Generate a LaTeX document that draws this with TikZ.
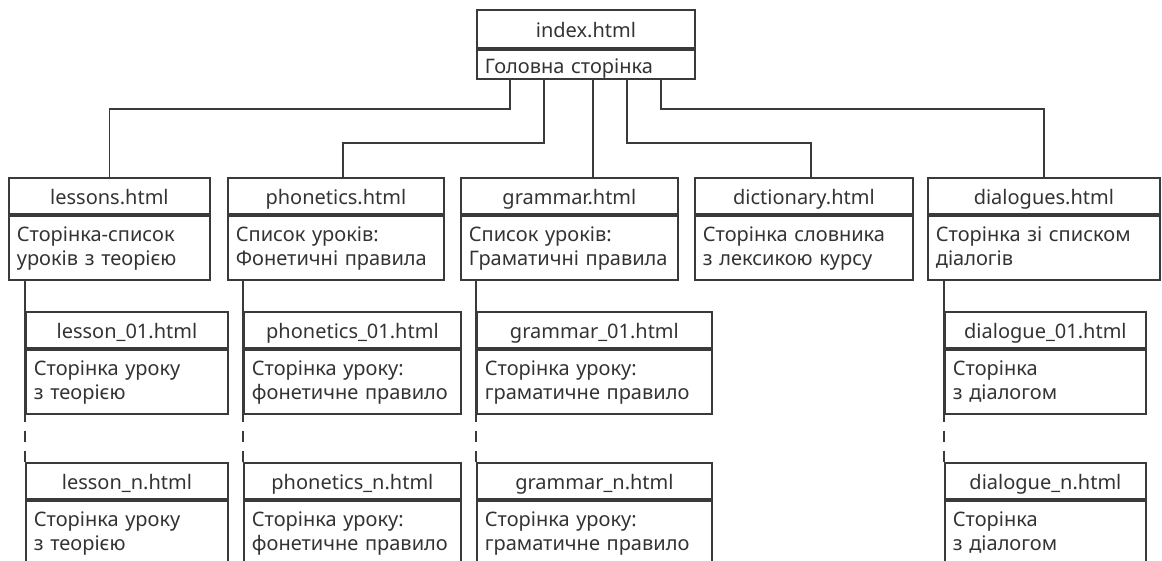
\documentclass[tikz,border=0pt]{standalone}
\usepackage{fontspec}
\setmainfont{Noto Sans}
\definecolor{linegray}{HTML}{3A3A3A}
\definecolor{textgray}{HTML}{333333}
\tikzset{
  pagetitle/.style={draw=linegray, line width=1.8pt, anchor=north west, inner xsep=0pt, inner ysep=0pt,
    text=textgray, font=\fontsize{20}{24}\selectfont, text height=27pt, text depth=9pt},
  pagedesc/.style={draw=linegray, line width=1.8pt, anchor=north west, inner xsep=8pt, inner ysep=0pt,
    align=left, text=textgray, font=\fontsize{20}{24}\selectfont, text height=26pt, text depth=38pt},
  link/.style={draw=linegray, line width=1.8pt},
  gap/.style={link, dash pattern=on 11pt off 9pt, dash phase=11pt}
}

\begin{document}
\begin{tikzpicture}[x=1pt, y=-1pt]
  \useasboundingbox (0,0) rectangle (1162,561);

  % home page
  \node[pagetitle, minimum width=218pt, text height=28pt, text depth=10pt] (index) at (476,9) {index.html};
  \node[pagedesc, text width=202pt, text height=24pt, text depth=5pt] (index-d) at (index.south west) {Головна сторінка};

  % sections
  \foreach \nm/\x/\w/\ttl/\dsc in {
      lessons/8/201/lessons.html/{Сторінка-список\\уроків з теорією},
      phonetics/227/216/phonetics.html/{Список уроків:\\Фонетичні правила},
      grammar/460/217/grammar.html/{Список уроків:\\Граматичні правила},
      dictionary/694/218/dictionary.html/{Сторінка словника\\з лексикою курсу},
      dialogues/927/232/dialogues.html/{Сторінка зі списком\\діалогів}} {
    \node[pagetitle, minimum width=\w pt] (\nm) at (\x,177) {\ttl};
    \node[pagedesc, text width=\w pt-16pt] (\nm-d) at (\nm.south west) {\dsc};
  }

  % first and last lesson pages
  \foreach \nm/\x/\y/\w/\ttl/\dsc in {
      lesson01/25/311/202/lesson\_01.html/{Сторінка уроку\\з теорією},
      lessonn/25/462/202/lesson\_n.html/{Сторінка уроку\\з теорією},
      phon01/243/311/217/phonetics\_01.html/{Сторінка уроку:\\фонетичне правило},
      phonn/243/462/217/phonetics\_n.html/{Сторінка уроку:\\фонетичне правило},
      gram01/476/311/235/grammar\_01.html/{Сторінка уроку:\\граматичне правило},
      gramn/476/462/235/grammar\_n.html/{Сторінка уроку:\\граматичне правило},
      dial01/944/311/201/dialogue\_01.html/{Сторінка\\з діалогом},
      dialn/944/462/201/dialogue\_n.html/{Сторінка\\з діалогом}} {
    \node[pagetitle, minimum width=\w pt] (\nm) at (\x,\y) {\ttl};
    \node[pagedesc, text width=\w pt-16pt] (\nm-d) at (\nm.south west) {\dsc};
  }

  % links from the home page
  \draw[link] ([xshift=34pt]index-d.south west) |- ([yshift=68pt]lessons.north) -- (lessons.north);
  \draw[link] ([xshift=68pt]index-d.south west) |- ([xshift=116pt, yshift=34pt]phonetics.north west)
    -- ([xshift=116pt]phonetics.north west);
  \draw[link] ([xshift=117pt]index-d.south west) coordinate (g) -- (g |- grammar.north);
  \draw[link] ([xshift=151pt]index-d.south west) |- ([xshift=117pt, yshift=34pt]dictionary.north west)
    -- ([xshift=117pt]dictionary.north west);
  \draw[link] ([xshift=185pt]index-d.south west) |- ([yshift=68pt]dialogues.north) -- (dialogues.north);

  % links down to the lesson pages
  \foreach \up/\first/\last in {lessons/lesson01/lessonn, phonetics/phon01/phonn,
      grammar/gram01/gramn, dialogues/dial01/dialn} {
    \draw[link] (\up-d.south -| \first.north west) -- ([yshift=-7pt]\first-d.south west);
    \draw[gap] ([yshift=-7pt]\first-d.south west) -- (\last.north west);
  }
\end{tikzpicture}
\end{document}
